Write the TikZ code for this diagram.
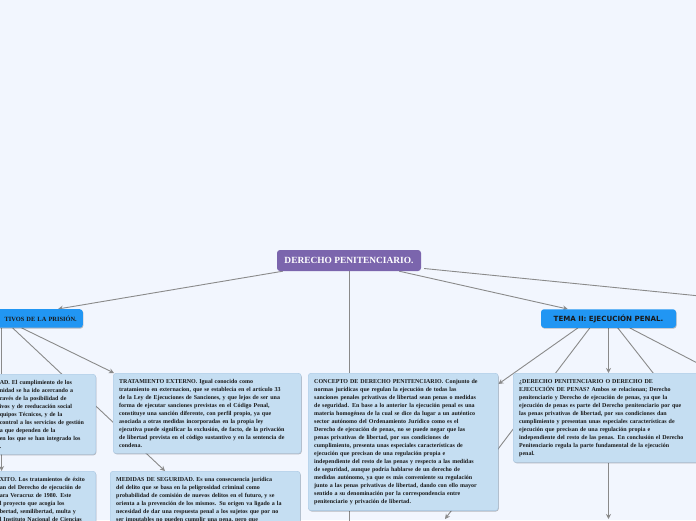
\documentclass[tikz,border=0pt]{standalone}
\usepackage{fontspec}
\setmainfont{Liberation Serif}
\newfontfamily\headfont{DejaVu Sans}
\usetikzlibrary{arrows.meta,positioning,calc,shadows,backgrounds}

\definecolor{bgcol}{HTML}{F2F6FE}
\definecolor{rootcol}{HTML}{7B65AD}
\definecolor{headcol}{HTML}{2196F3}
\definecolor{boxcol}{HTML}{C5DEF2}
\definecolor{boxline}{HTML}{A9C7E3}
\definecolor{linkcol}{HTML}{8A8A8A}

\begin{document}
\begin{tikzpicture}[
    x=1pt, y=-1pt,
    every node/.style={font=\bfseries\fontsize{6}{8}\selectfont, text=black!90},
    softshadow/.style={drop shadow={shadow xshift=0.6pt, shadow yshift=-0.9pt, opacity=0.25, fill=black}},
    rootbox/.style={fill=rootcol, rounded corners=3pt, text=white, font=\bfseries\fontsize{9.4}{11}\selectfont, minimum width=144pt, minimum height=21pt, inner sep=0pt},
    headbox/.style={fill=headcol, rounded corners=3pt, minimum height=18.5pt, inner ysep=0pt, inner xsep=6pt, softshadow},
    textbox/.style={fill=boxcol, draw=boxline, line width=0.4pt, rounded corners=3pt, align=left, inner xsep=6pt, inner ysep=6pt, softshadow},
    link/.style={draw=linkcol, line width=0.9pt},
    linkto/.style={link, -{Stealth[length=5pt,width=5pt]}}
]
    \useasboundingbox (0,0) rectangle (696,520);

    % Central topic
    \node[rootbox] (derecho) at (349,260.5) {DERECHO PENITENCIARIO.};

    % Main branches
    \node[headbox, anchor=north east, text width=84pt, align=right, font=\bfseries\fontsize{6.4}{8}\selectfont] (prision) at (83,309) {TIVOS DE LA PRISIÓN.};
    \node[headbox, minimum width=135pt, font=\headfont\bfseries\fontsize{7.1}{8}\selectfont] (ejecucion) at (608.5,318.5) {TEMA II: EJECUCIÓN PENAL.};

    % Left branch boxes
    \node[textbox, anchor=north east, text width=90pt] (regimen) at (96,374) {AD. El cumplimiento de los\\
nidad se ha ido acercando a\\
ravés de la posibilidad de\\
ivos y de reeducación social\\
quipos Técnicos, y de la\\
control a los servicios de gestión\\
a que dependen de la\\
en los que se han integrado los\\
.};
    \node[textbox, anchor=north east, text width=90pt] (exito) at (96,471) {XITO. Los tratamientos de éxito\\
an del Derecho de ejecución de\\
ara Veracruz de 1980. Este\\
l proyecto que acogía los\\
bertad, semilibertad, multa y\\
l Instituto Nacional de Ciencias};
    \node[textbox, anchor=north west, text width=176pt] (externo) at (113,373) {TRATAMIENTO EXTERNO. Igual conocido como\\
tratamiento en externacion, que se establecía en el artículo 33\\
de la Ley de Ejecuciones de Sanciones, y que lejos de ser una\\
forma de ejecutar sanciones previstas en el Código Penal,\\
constituye una sanción diferente, con perfil propio, ya que\\
asociada a otras medidas incorporadas en la propia ley\\
ejecutiva puede significar la exclusión, de facto, de la privación\\
de libertad prevista en el código sustantivo y en la sentencia de\\
condena.};
    \node[textbox, anchor=north west, text width=178pt] (seguridad) at (110,471) {MEDIDAS DE SEGURIDAD. Es una consecuencia jurídica\\
del delito que se basa en la peligrosidad criminal como\\
probabilidad de comisión de nuevos delitos en el futuro, y se\\
orienta a la prevención de los mismos. Su origen va ligado a la\\
necesidad de dar una respuesta penal a los sujetos que por no\\
ser imputables no pueden cumplir una pena, pero que};

    % Middle box
    \node[textbox, anchor=north west, text width=178pt] (concepto) at (308,373) {CONCEPTO DE DERECHO PENITENCIARIO. Conjunto de\\
normas jurídicas que regulan la ejecución de todas las\\
sanciones penales privativas de libertad sean penas o medidas\\
de seguridad. En base a lo anterior la ejecución penal es una\\
materia homogénea de la cual se dice da lugar a un auténtico\\
sector autónomo del Ordenamiento Jurídico como es el\\
Derecho de ejecución de penas, no se puede negar que las\\
penas privativas de libertad, por sus condiciones de\\
cumplimiento, presenta unas especiales características de\\
ejecución que precisan de una regulación propia e\\
independiente del resto de las penas y respecto a las medidas\\
de seguridad, aunque podría hablarse de un derecho de\\
medidas autónomo, ya que es más conveniente su regulación\\
junto a las penas privativas de libertad, dando con ello mayor\\
sentido a su denominación por la correspondencia entre\\
penitenciario y privación de libertad.};

    % Right branch box
    \node[textbox, anchor=north west, text width=175pt] (relacion) at (513,373) {¿DERECHO PENITENCIARIO O DERECHO DE\\
EJECUCIÓN DE PENAS? Ambos se relacionan; Derecho\\
penitenciario y Derecho de ejecución de penas, ya que la\\
ejecución de penas es parte del Derecho penitenciario por que\\
las penas privativas de libertad, por sus condiciones dan\\
cumplimiento y presentan unas especiales características de\\
ejecución que precisan de una regulación propia e\\
independiente del resto de las penas. En conclusión el Derecho\\
Penitenciario regula la parte fundamental de la ejecución\\
penal.};

    % Free ends of branches leaving the frame
    \coordinate (farright) at (720,298);
    \coordinate (belowA) at (445,519);
    \coordinate (hiddenA) at (690,420);
    \coordinate (farB) at (730,380);
    \coordinate (belowC) at (608.5,519);
    \coordinate (belowD) at (349,535);
    \coordinate (vtop) at ([xshift=15pt]prision.south west);

    % Connectors, behind the boxes
    \begin{scope}[on background layer]
        \fill[bgcol] (0,0) rectangle (696,520);
        \draw[linkto] ([xshift=6pt]derecho.south west) -- ([xshift=-25pt]prision.north east);
        \draw[link] (derecho.south) -- (derecho.south |- concepto.north);
        \draw[linkto] ([xshift=-22pt]derecho.south east) -- ([xshift=27pt]ejecucion.north west);
        \draw[link] ([xshift=3pt,yshift=-8pt]derecho.east) -- (farright);

        \draw[linkto] ([xshift=26pt]prision.south west) -- ([xshift=55pt]seguridad.north west);
        \draw[linkto] ([xshift=35pt]prision.south west) -- ([xshift=1pt]externo.north west);
        \draw[linkto] (vtop) -- (vtop |- exito.north);

        \draw[linkto] ([xshift=37pt]ejecucion.south west) -- ([yshift=-11pt]concepto.north east);
        \draw[linkto] ([xshift=49pt]ejecucion.south west) -- (belowA);
        \draw[linkto] (ejecucion.south) -- (ejecucion.south |- relacion.north);
        \draw[link] ([xshift=77pt]ejecucion.south west) -- (hiddenA);
        \draw[link] ([xshift=89pt]ejecucion.south west) -- (farB);

        \draw[linkto] (belowC |- relacion.south) -- (belowC);
        \draw[link] (belowD |- concepto.south) -- (belowD);
    \end{scope}
\end{tikzpicture}
\end{document}
